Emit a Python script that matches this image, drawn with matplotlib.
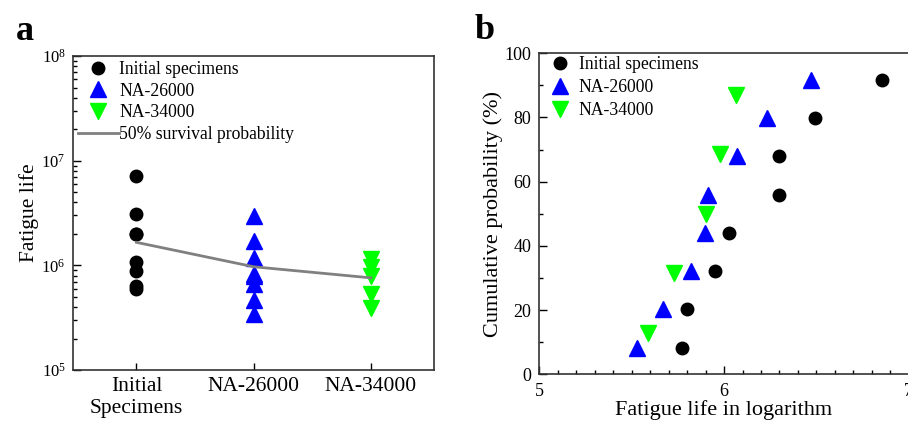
import numpy as np
import matplotlib.pyplot as plt
from matplotlib.ticker import MultipleLocator, LogLocator, NullFormatter

plt.rcParams['font.family'] = ['Liberation Serif', 'DejaVu Serif']
plt.rcParams['mathtext.fontset'] = 'stix'

# data: log10 of fatigue life, and median-rank cumulative probability (%)
log_initial = [5.774, 5.801, 5.951, 6.029, 6.298, 6.300, 6.493, 6.854]
log_na26 = [5.531, 5.671, 5.819, 5.899, 5.915, 6.069, 6.231, 6.471]
log_na34 = [5.590, 5.731, 5.903, 5.980, 6.065]
prob_initial = [8.3, 20.2, 32.1, 44.0, 56.0, 67.9, 79.8, 91.7]
prob_na26 = [8.3, 20.2, 32.1, 44.0, 56.0, 67.9, 79.8, 91.7]
prob_na34 = [13.0, 31.5, 50.0, 68.5, 87.0]

groups = ['Initial\nSpecimens', 'NA-26000', 'NA-34000']
survival50 = [1.66e6, 0.97e6, 0.76e6]

black = 'black'
blue = '#0000ff'
green = '#00ff00'

fig = plt.figure(figsize=(9.08, 4.23), dpi=100)

# panel a
ax1 = fig.add_axes([0.080, 0.1253, 0.398, 0.742])
ax1.plot([1]*len(log_initial), 10**np.array(log_initial), 'o', color=black,
         ms=9, label='Initial specimens')
ax1.plot([2]*len(log_na26), 10**np.array(log_na26), '^', color=blue,
         ms=11, label='NA-26000')
ax1.plot([3]*len(log_na34), 10**np.array(log_na34), 'v', color=green,
         ms=11, label='NA-34000')
ax1.plot([1, 2, 3], survival50, '-', color='#808080', lw=2,
         label='50% survival probability')
ax1.set_yscale('log')
ax1.set_ylim(1e5, 1e8)
ax1.set_xlim(0.455, 3.54)
ax1.set_xticks([1, 2, 3])
ax1.set_xticklabels(groups, fontsize=15.5)
ax1.yaxis.set_major_locator(LogLocator(base=10, numticks=10))
ax1.yaxis.set_minor_locator(LogLocator(base=10, subs=np.arange(2, 10), numticks=10))
ax1.yaxis.set_minor_formatter(NullFormatter())
ax1.tick_params(axis='y', which='major', direction='in', length=6, width=1,
                labelsize=12, pad=5, right=False)
ax1.tick_params(axis='y', which='minor', direction='in', length=3, width=1, right=False)
ax1.tick_params(axis='x', which='both', direction='in', length=5, width=1,
                pad=5, top=False)
ax1.set_ylabel('Fatigue life', fontsize=15.5, labelpad=2)
for s in ax1.spines.values():
    s.set_linewidth(1.2)
    s.set_color('#333333')
ax1.legend(loc='upper left', bbox_to_anchor=(0.0147, 0.985), frameon=False,
           fontsize=12.7, borderaxespad=0, borderpad=0, handlelength=2.3,
           handletextpad=0.05, labelspacing=0.27, numpoints=1)

# panel b
ax2 = fig.add_axes([0.594, 0.1151, 0.4068, 0.759])
ax2.plot(log_initial, prob_initial, 'o', color=black, ms=9, label='Initial specimens')
ax2.plot(log_na26, prob_na26, '^', color=blue, ms=11, label='NA-26000')
ax2.plot(log_na34, prob_na34, 'v', color=green, ms=11, label='NA-34000')
ax2.set_xlim(5, 7)
ax2.set_ylim(0, 100)
ax2.xaxis.set_major_locator(MultipleLocator(1))
ax2.xaxis.set_minor_locator(MultipleLocator(0.1))
ax2.yaxis.set_major_locator(MultipleLocator(20))
ax2.yaxis.set_minor_locator(MultipleLocator(10))
ax2.tick_params(which='major', direction='in', length=6, width=1,
                labelsize=13, pad=6, top=False, right=False)
ax2.tick_params(which='minor', direction='in', length=3, width=1,
                top=False, right=False)
ax2.set_xlabel('Fatigue life in logarithm', fontsize=16, labelpad=0)
ax2.set_ylabel('Cumulative probability (%)', fontsize=16, labelpad=0.5)
for s in ax2.spines.values():
    s.set_linewidth(1.2)
    s.set_color('#333333')
ax2.legend(loc='upper left', bbox_to_anchor=(0.026, 0.99), frameon=False,
           fontsize=12.7, borderaxespad=0, borderpad=0, handlelength=1.2,
           handletextpad=0.5, labelspacing=0.34, numpoints=1)

fig.text(16/908, 1 - 40/423, 'a', fontsize=26, fontweight='bold', va='baseline')
fig.text(475/908, 1 - 39/423, 'b', fontsize=26, fontweight='bold', va='baseline')

fig.savefig('out.png', dpi=100)
